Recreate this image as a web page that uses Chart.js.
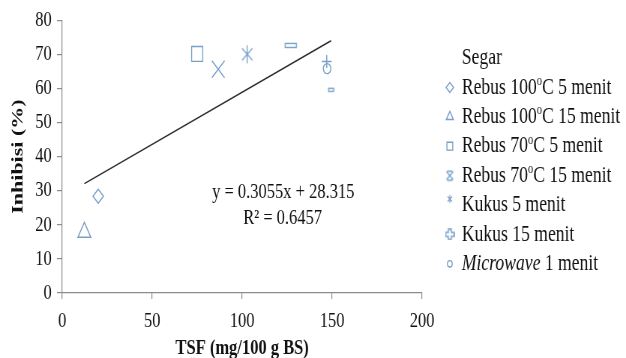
<!DOCTYPE html>
<html>
<head>
<meta charset="utf-8">
<script src="https://cdn.jsdelivr.net/npm/chart.js@4/dist/chart.umd.min.js"></script>
<style>
  html, body { margin: 0; padding: 0; background: #fff; }
  #c { display: block; width: 626px; height: 358px; }
</style>
</head>
<body>
<canvas id="c" width="835" height="358" style="width:626px;height:358px"></canvas>
<script>
// ---------- data ----------
const seriesNames = ['Segar', 'Rebus 100ºC 5 menit', 'Rebus 100ºC 15 menit', 'Rebus 70ºC 5 menit',
                     'Rebus 70ºC 15 menit', 'Kukus 5 menit', 'Kukus 15 menit', 'Microwave 1 menit'];
const segarX      = [127.0, 149.4];
const segarY      = [72.6, 59.6];
const rebus100_5X  = [20.0];
const rebus100_5Y  = [28.4];
const rebus100_15X = [12.3];
const rebus100_15Y = [17.8];
const rebus70_5X   = [75.0];
const rebus70_5Y   = [70.1];
const rebus70_15X  = [86.7];
const rebus70_15Y  = [65.6];
const kukus5X      = [102.8];
const kukus5Y      = [70.0];
const kukus15X     = [147.0];
const kukus15Y     = [67.9];
const microwaveX   = [147.2];
const microwaveY   = [65.8];
const trendSlope = 0.3055;
const trendIntercept = 28.315;
const rSquared = 0.6457;
const xTicks = [0, 50, 100, 150, 200];
const yTicks = [0, 10, 20, 30, 40, 50, 60, 70, 80];

// ---------- helpers ----------
const MC = '#78a0c8';
const pts = (xs, ys) => xs.map((x, i) => ({x: x, y: ys[i]}));
function mk(w, h, draw, lw) {
  const c = document.createElement('canvas');
  c.width = w; c.height = h;
  const g = c.getContext('2d');
  g.strokeStyle = MC; g.lineWidth = lw || 1.4;
  draw(g, w, h);
  return c;
}
const dashBig = mk(18, 7, (g, w, h) => { g.strokeRect(1.5, 1.5, w - 3, h - 3); });
const dashSmall = mk(10, 6, (g, w, h) => { g.strokeRect(1.5, 1.5, w - 3, h - 3); });
const asterisk = mk(20, 20, (g) => {
  g.beginPath();
  g.moveTo(3, 4); g.lineTo(17, 16);
  g.moveTo(17, 4); g.lineTo(3, 16);
  g.moveTo(10, 1); g.lineTo(10, 19);
  g.stroke();
});
const asteriskSmall = mk(10, 10, (g) => {
  g.beginPath();
  g.moveTo(2, 2.5); g.lineTo(8, 7.5);
  g.moveTo(8, 2.5); g.lineTo(2, 7.5);
  g.moveTo(5, 1); g.lineTo(5, 9);
  g.stroke();
}, 1.2);
const xBoxSmall = mk(13, 12, (g) => {
  g.beginPath();
  g.moveTo(2, 2); g.lineTo(11, 10);
  g.moveTo(11, 2); g.lineTo(2, 10);
  g.moveTo(3, 1.5); g.lineTo(10, 1.5);
  g.moveTo(3, 10.5); g.lineTo(10, 10.5);
  g.stroke();
}, 1.5);
const plusSmall = mk(13, 12, (g) => {
  g.beginPath();
  g.moveTo(4.5, 1); g.lineTo(8.5, 1); g.lineTo(8.5, 4); g.lineTo(12, 4); g.lineTo(12, 8);
  g.lineTo(8.5, 8); g.lineTo(8.5, 11); g.lineTo(4.5, 11); g.lineTo(4.5, 8); g.lineTo(1, 8);
  g.lineTo(1, 4); g.lineTo(4.5, 4); g.closePath();
  g.stroke();
}, 1.6);

const allX = [].concat(segarX, rebus100_5X, rebus100_15X, rebus70_5X, rebus70_15X, kukus5X, kukus15X, microwaveX);
const xMin = Math.min.apply(null, allX), xMax = Math.max.apply(null, allX);
const trendData = [xMin, xMax].map(x => ({x: x, y: trendSlope * x + trendIntercept}));

const base = {borderColor: MC, backgroundColor: 'rgba(0,0,0,0)', borderWidth: 1.4, showLine: false};
const datasets = [
  Object.assign({}, base, {label: seriesNames[0], data: pts(segarX, segarY),
    pointStyle: (c) => c.dataIndex === 0 ? dashBig : dashSmall, pointRadius: 8}),
  Object.assign({}, base, {label: seriesNames[1], data: pts(rebus100_5X, rebus100_5Y), pointStyle: 'rectRot', pointRadius: 7}),
  Object.assign({}, base, {label: seriesNames[2], data: pts(rebus100_15X, rebus100_15Y), pointStyle: 'triangle', pointRadius: 10}),
  Object.assign({}, base, {label: seriesNames[3], data: pts(rebus70_5X, rebus70_5Y), pointStyle: 'rect', pointRadius: 10.5}),
  Object.assign({}, base, {label: seriesNames[4], data: pts(rebus70_15X, rebus70_15Y), pointStyle: 'crossRot', pointRadius: 12}),
  Object.assign({}, base, {label: seriesNames[5], data: pts(kukus5X, kukus5Y), pointStyle: asterisk, pointRadius: 10}),
  Object.assign({}, base, {label: seriesNames[6], data: pts(kukus15X, kukus15Y), pointStyle: 'cross', pointRadius: 6.5}),
  Object.assign({}, base, {label: seriesNames[7], data: pts(microwaveX, microwaveY), pointStyle: 'circle', pointRadius: 5}),
  {type: 'line', label: 'trend', data: trendData, borderColor: '#2b2b2b', borderWidth: 1.6,
   pointRadius: 0, fill: false, tension: 0}
];

// ---------- legend + equation (canvas text) ----------
const legendItems = [
  {parts: [{t: 'Segar'}], marker: null},
  {parts: [{t: 'Rebus 100'}, {t: 'o', sup: true}, {t: 'C 5 menit'}], marker: {pointStyle: 'rectRot', radius: 5}},
  {parts: [{t: 'Rebus 100'}, {t: 'o', sup: true}, {t: 'C 15 menit'}], marker: {pointStyle: 'triangle', radius: 5.5}},
  {parts: [{t: 'Rebus 70'}, {t: 'o', sup: true}, {t: 'C 5 menit'}], marker: {pointStyle: 'rect', radius: 5.5}},
  {parts: [{t: 'Rebus 70'}, {t: 'o', sup: true}, {t: 'C 15 menit'}], marker: {pointStyle: xBoxSmall}},
  {parts: [{t: 'Kukus 5 menit'}], marker: {pointStyle: asteriskSmall}, dy: -6},
  {parts: [{t: 'Kukus 15 menit'}], marker: {pointStyle: plusSmall}},
  {parts: [{t: 'Microwave', it: true}, {t: ' 1 menit'}], marker: {pointStyle: 'circle', radius: 3.2}}
];
const FONT = '"Liberation Serif", "Times New Roman", serif';

const overlay = {
  id: 'overlay',
  afterDraw(chart) {
    const ctx = chart.ctx;
    ctx.save();
    // legend
    const mx = 600, tx = 616, y0 = 58, step = 29.4;
    legendItems.forEach((it, i) => {
      const y = y0 + i * step;
      if (it.marker) {
        ctx.strokeStyle = MC; ctx.fillStyle = 'rgba(0,0,0,0)'; ctx.lineWidth = 1.4;
        Chart.helpers.drawPoint(ctx, {pointStyle: it.marker.pointStyle, radius: it.marker.radius || 5,
          rotation: 0, borderWidth: 1.4}, mx, y + (it.dy || 0));
      }
      let x = tx;
      ctx.fillStyle = '#111';
      ctx.textBaseline = 'middle';
      ctx.textAlign = 'left';
      it.parts.forEach(p => {
        if (p.sup) {
          ctx.font = '14px ' + FONT;
          ctx.fillText(p.t, x, y - 6);
        } else {
          ctx.font = (p.it ? 'italic ' : '') + '23.5px ' + FONT;
          ctx.fillText(p.t, x, y);
        }
        x += ctx.measureText(p.t).width;
      });
    });
    // equation
    const xs = chart.scales.x, ys = chart.scales.y;
    ctx.font = '22px ' + FONT;
    ctx.fillStyle = '#111';
    ctx.textBaseline = 'middle';
    ctx.fillText('y = ' + trendSlope.toFixed(4) + 'x + ' + trendIntercept.toFixed(3),
                 xs.getPixelForValue(83.3), ys.getPixelForValue(29.5));
    ctx.fillText('R² = ' + rSquared.toFixed(4), xs.getPixelForValue(100.6), ys.getPixelForValue(21.9));
    ctx.restore();
  }
};

const AX = '#8c8c8c';
new Chart(document.getElementById('c'), {
  type: 'scatter',
  data: {datasets: datasets},
  options: {
    responsive: false,
    animation: false,
    devicePixelRatio: 1,
    layout: {padding: {top: 19, right: 272, bottom: 0, left: 0}},
    plugins: {legend: {display: false}, tooltip: {enabled: false}},
    scales: {
      x: {
        type: 'linear', min: 0, max: 200,
        afterBuildTicks: (s) => { s.ticks = xTicks.map(v => ({value: v})); },
        afterFit: (s) => { s.height = 65; },
        grid: {display: true, drawOnChartArea: false, drawTicks: true, tickLength: 6, color: AX, lineWidth: 1.2},
        border: {display: true, color: AX, width: 1.2},
        ticks: {color: '#111', font: {family: FONT, size: 22}, padding: 9, maxRotation: 0},
        title: {display: true, text: 'TSF (mg/100 g BS)', color: '#111',
                font: {family: FONT, size: 22, weight: 'bold', lineHeight: 0.9}, padding: {top: 0, bottom: 0}}
      },
      y: {
        type: 'linear', min: 0, max: 80,
        afterBuildTicks: (s) => { s.ticks = yTicks.map(v => ({value: v})); },
        afterFit: (s) => { s.width = 83; },
        grid: {display: true, drawOnChartArea: false, drawTicks: true, tickLength: 7, color: AX, lineWidth: 1.2},
        border: {display: true, color: AX, width: 1.2},
        ticks: {color: '#111', font: {family: FONT, size: 22}, padding: 7},
        title: {display: true, text: 'Inhibisi (%)', color: '#111',
                font: {family: FONT, size: 22, weight: 'bold'}, padding: {top: 11, bottom: 0}}
      }
    }
  },
  plugins: [overlay]
});
</script>
</body>
</html>
